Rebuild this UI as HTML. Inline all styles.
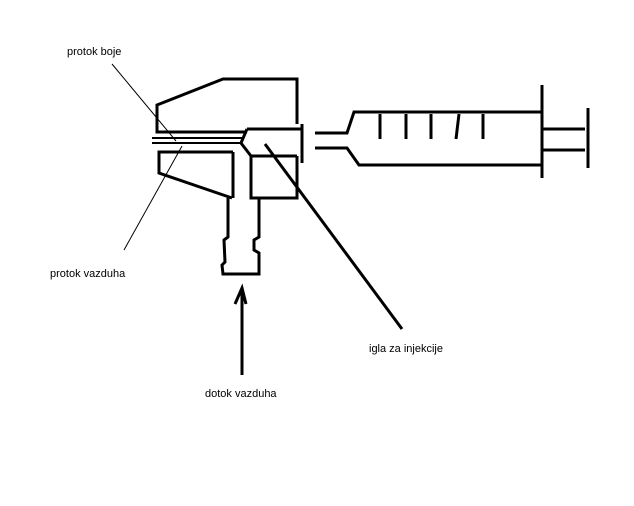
<!DOCTYPE html>
<html><head><style>body{margin:0;background:#fff}svg{display:block}text{font-family:"Liberation Sans",sans-serif;font-size:11px;fill:#000}</style></head>
<body>
<svg width="634" height="506" viewBox="0 0 634 506">
<rect width="634" height="506" fill="#fff"/>
<g fill="none" stroke="#000" stroke-width="3" stroke-linejoin="miter">
<polyline points="297,124 297,79 223,79 157,105 157,132 247,132"/>
<polyline points="247,129 302,129"/>
<polyline points="302,124 302,163"/>
<polyline points="247,129 241,143 251,156 297,156"/>
<polyline points="251,156 251,198 297,198 297,156"/>
<polyline points="152,138 243,138" stroke-width="2"/>
<polyline points="152,143 241,143" stroke-width="2"/>
<polyline points="233,152 159,152 159,173 232,198"/>
<polyline points="233,152 233,198"/>
<polyline points="228,198 228,237 224,240 225,262 222,265 223,274 259,274 259,253 254,250 254,240 259,237 259,198"/>
<polyline points="315,133 347,133 354,112 541,112"/>
<polyline points="315,148 347,148 359,165 541,165"/>
<line x1="542" y1="85" x2="542" y2="178"/>
<line x1="542" y1="129" x2="585" y2="129"/>
<line x1="542" y1="150" x2="585" y2="150"/>
<line x1="588" y1="108" x2="588" y2="168"/>
<line x1="380" y1="114" x2="380" y2="139"/>
<line x1="406" y1="114" x2="406" y2="139"/>
<line x1="431" y1="114" x2="431" y2="139"/>
<line x1="459" y1="114" x2="456" y2="139"/>
<line x1="483" y1="114" x2="483" y2="139"/>
<line x1="265" y1="144" x2="402" y2="329"/>
<line x1="242" y1="289" x2="242" y2="375"/>
<polyline points="235,304 242,288 246,304"/>
</g>
<g stroke="#000" stroke-width="1">
<line x1="112" y1="64" x2="176" y2="141"/>
<line x1="124" y1="250" x2="182" y2="146"/>
</g>
<text x="67" y="55">protok boje</text>
<text x="50" y="277">protok vazduha</text>
<text x="369" y="352">igla za injekcije</text>
<text x="205" y="397">dotok vazduha</text>
</svg>
</body></html>
